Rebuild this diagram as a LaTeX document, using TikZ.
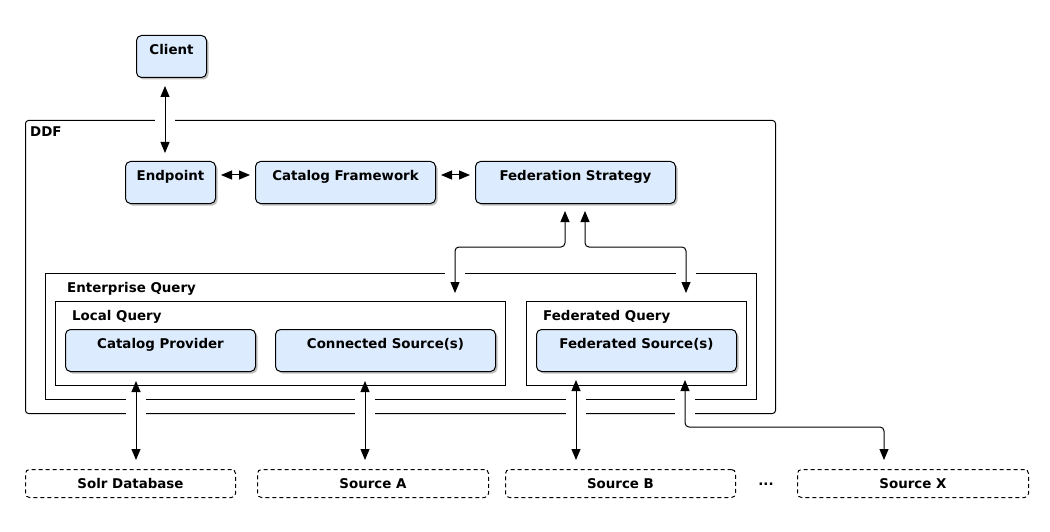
\documentclass[tikz,border=0pt]{standalone}
\usepackage{fontspec}
\setmainfont{DejaVu Sans}
\usetikzlibrary{arrows.meta,shadows,calc}
\definecolor{boxblue}{RGB}{220,235,253}
\tikzset{
  txt/.style={font=\bfseries\fontsize{13.4}{15}\selectfont},
  comp/.style={txt, draw=black, line width=1pt, fill=boxblue, rounded corners=5pt,
    inner sep=0pt, text height=19pt, text depth=23pt, anchor=north west,
    drop shadow={shadow xshift=2pt, shadow yshift=-2pt, opacity=0.25, fill=black}},
  cont/.style={draw=black, line width=1pt, inner sep=0pt, anchor=north west},
  lbl/.style={txt, inner sep=0pt, anchor=base west},
  src/.style={txt, draw=black, line width=1pt, dash pattern=on 4pt off 3pt,
    rounded corners=4pt, inner sep=0pt, minimum height=28pt, anchor=north west},
  arr/.style={line width=1pt, <->, >={Triangle[length=11pt,width=9pt]}},
  gap/.style={fill=white},
}
\begin{document}
\begin{tikzpicture}[x=1pt,y=-1pt]
\useasboundingbox[fill=white] (0,0) rectangle (1050,532);

% containers
\node[cont, rounded corners=3pt, minimum width=750, minimum height=293] (ddf) at (25,120) {};
\node[lbl] (ddfl) at (30,137) {DDF};
\node[cont, minimum width=711, minimum height=126] (eq) at (45,273) {};
\node[lbl] (eql) at (67,292) {Enterprise Query};
\node[cont, minimum width=450, minimum height=84] (lq) at (55,301) {};
\node[lbl] (lql) at (72,320) {Local Query};
\node[cont, minimum width=220, minimum height=84] (fq) at (526,301) {};
\node[lbl] (fql) at (543,320) {Federated Query};

% components
\node[comp, minimum width=70] (client) at (136,35) {Client};
\node[comp, minimum width=90] (endpoint) at (125,161) {Endpoint};
\node[comp, minimum width=180] (catalog) at (255,161) {Catalog Framework};
\node[comp, minimum width=200] (fedstrat) at (475,161) {Federation Strategy};
\node[comp, minimum width=190] (catprov) at (65,329) {Catalog Provider};
\node[comp, minimum width=220] (connsrc) at (275,329) {Connected Source(s)};
\node[comp, minimum width=200] (fedsrc) at (536,329) {Federated Source(s)};

% sources
\node[src, minimum width=210] (solr) at (25,469) {Solr Database};
\node[src, minimum width=231] (srca) at (257,469) {Source A};
\node[src, minimum width=230] (srcb) at (505,469) {Source B};
\node[txt] (dots) at (766,484) {...};
\node[src, minimum width=231] (srcx) at (797,469) {Source X};

% gaps in the container borders
\fill[gap] (155,117) rectangle (175,123);
\foreach \x in {455,686} {\fill[gap] (\x-10,270) rectangle (\x+10,276);}
\foreach \x in {136,365,576,685} {
  \fill[gap] (\x-10,396) rectangle (\x+10,402);
  \fill[gap] (\x-10,410) rectangle (\x+10,416);
}

% column coordinates
\coordinate (xc) at (165,0);
\coordinate (s1) at (565,0);
\coordinate (s2) at (585,0);
\coordinate (m1) at (455,247);
\coordinate (m2) at (686,247);
\coordinate (b1) at (136,0);
\coordinate (b2) at (365,0);
\coordinate (b3) at (576,0);
\coordinate (b4) at (685,0);
\coordinate (m3) at (884,427);

% connectors
\draw[arr, shorten <=8pt, shorten >=8pt] (client.south -| xc) -- (endpoint.north -| xc);
\draw[arr, shorten <=5pt, shorten >=5pt] ([yshift=-14pt]endpoint.north east) -- ([yshift=-14pt]catalog.north west);
\draw[arr, shorten <=5pt, shorten >=5pt] ([yshift=-14pt]catalog.north east) -- ([yshift=-14pt]fedstrat.north west);
\draw[arr, rounded corners=4pt, shorten <=7pt, shorten >=8pt] (fedstrat.south -| s1) |- (m1) -- (lq.north -| m1);
\draw[arr, rounded corners=4pt, shorten <=7pt, shorten >=8pt] (fedstrat.south -| s2) |- (m2) -- (fq.north -| m2);
\draw[arr, shorten <=9pt, shorten >=9pt] (catprov.south -| b1) -- (solr.north -| b1);
\draw[arr, shorten <=9pt, shorten >=9pt] (connsrc.south -| b2) -- (srca.north -| b2);
\draw[arr, shorten <=8pt, shorten >=9pt] (fedsrc.south -| b3) -- (srcb.north -| b3);
\draw[arr, rounded corners=4pt, shorten <=8pt, shorten >=9pt] (fedsrc.south -| b4) |- (m3) -- (srcx.north -| m3);
\end{tikzpicture}
\end{document}
